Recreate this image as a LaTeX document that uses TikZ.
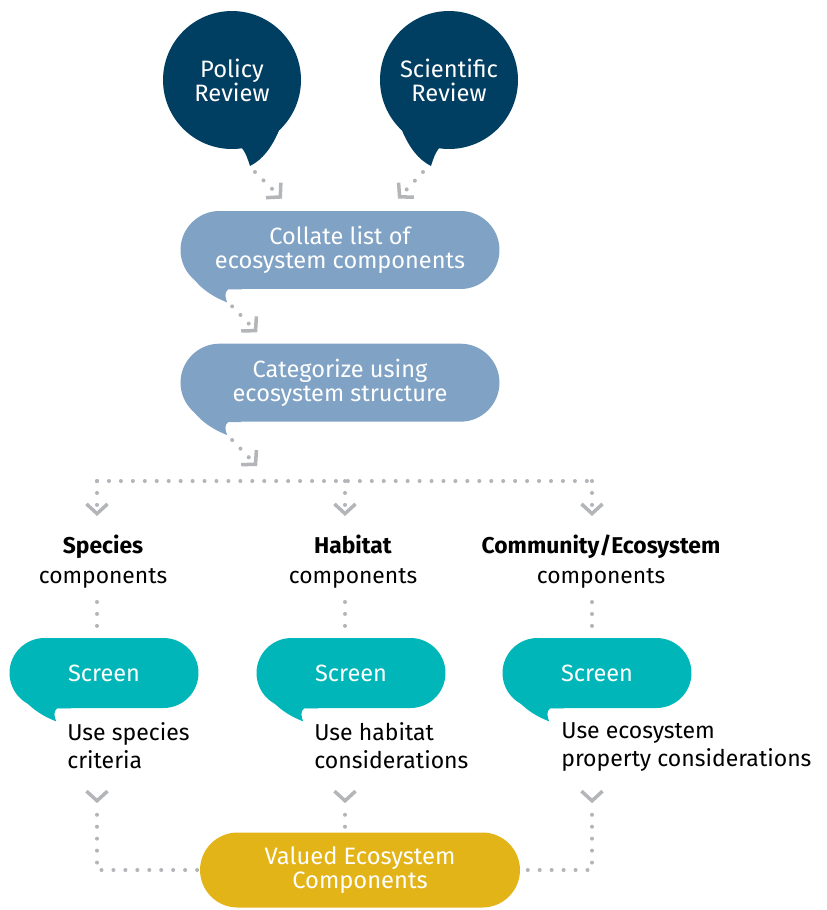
\documentclass[tikz,border=0pt]{standalone}
\usepackage{fontspec}
\setmainfont{Fira Sans}
\usetikzlibrary{positioning,calc,arrows.meta,decorations.markings}

\definecolor{reviewblue}{HTML}{003E62}
\definecolor{stepblue}{HTML}{7FA2C5}
\definecolor{screenteal}{HTML}{00B6B9}
\definecolor{valuegold}{HTML}{E3B417}
\definecolor{dotgray}{HTML}{B3B5B8}

\pgfdeclarelayer{background}
\pgfsetlayers{background,main}

\tikzset{vtip/.tip={Straight Barb[length=5.5pt, width=12pt, line width=2pt]}}

% speech bubble tails
\newcommand{\roundtail}[2]{%
  \fill[#2] ($(#1.south west)+(8,-20)$) .. controls ($(#1.south west)+(16,-2)$) and ($(#1.south west)+(34,8)$) .. ($(#1.south west)+(47,13)$)
    .. controls ($(#1.south west)+(45,8)$) and ($(#1.south west)+(44,3)$) .. ($(#1.south west)+(48,0)$) -- ($(#1.south west)+(62,0)$) -- cycle;}
\newcommand{\balltail}[3]{%
  \fill[#3] ($(#1)+(#2*8,66)$) .. controls ($(#1)+(#2*14,72)$) and ($(#1)+(#2*16,80)$) .. ($(#1)+(#2*18,86)$)
    .. controls ($(#1)+(#2*30,80)$) and ($(#1)+(#2*40,68)$) .. ($(#1)+(#2*48,48)$) -- cycle;}

\begin{document}
\begin{tikzpicture}[
    x=0.02cm, y=-0.02cm,
    review/.style={circle, fill=reviewblue, minimum size=2.76cm, inner sep=0pt, text=white, align=center, font=\fontsize{13.5}{13.6}\selectfont},
    bubble/.style={rectangle, rounded corners=0.78cm, fill=stepblue, minimum width=6.38cm, minimum height=1.56cm, inner sep=0pt, text=white, align=center, font=\fontsize{13.4}{13.6}\selectfont},
    screen/.style={rectangle, rounded corners=0.7cm, fill=screenteal, minimum width=3.78cm, minimum height=1.4cm, inner sep=0pt, text=white, font=\fontsize{13.4}{15}\selectfont},
    valued/.style={rectangle, rounded corners=0.75cm, fill=valuegold, minimum width=6.4cm, minimum height=1.5cm, inner sep=0pt, text=white, align=center, font=\fontsize{13.5}{13.6}\selectfont},
    group/.style={align=center, inner sep=0pt, font=\fontsize{13}{17}\selectfont},
    usage/.style={align=left, anchor=north west, inner sep=0pt, font=\fontsize{13.1}{15.9}\selectfont},
    dotline/.style={draw=dotgray, line width=2.3pt, line cap=round, dash pattern=on 0pt off 6.8pt},
    chevstart/.style={dash phase=0.1pt, postaction={decorate, decoration={markings, mark=at position 0.1pt with {\arrow[dotgray]{vtip}}}}}
]
\useasboundingbox (0,0) rectangle (827,910);

% sources
\node[review] (policy) at (232,80) {Policy\\Review};
\node[review] (scientific) at (449,80) {Scientific\\Review};

% steps
\node[bubble] (collate) at (340,250) {Collate list of\\ecosystem components};
\node[bubble, below=1.08cm of collate] (categorize) {Categorize using\\ecosystem structure};

% component groups
\node[group] (species) at (103,562) {\textbf{Species}\\components};
\node[group] (habitat) at (353,562) {\textbf{Habitat}\\components};
\node[group] (community) at (601,562) {\textbf{Community/Ecosystem}\\components};

\node[screen] (screen-s) at (104,673) {Screen};
\node[screen] (screen-h) at (351,673) {Screen};
\node[screen] (screen-c) at (597,673) {Screen};

\node[usage] (use-s) at (67,722) {Use species\\criteria};
\node[usage] (use-h) at (314,722) {Use habitat\\considerations};
\node[usage] (use-c) at (561,722) {Use ecosystem\\property considerations};

\node[valued] (valued) at (360,870) {Valued Ecosystem\\Components};

% tails
\begin{pgfonlayer}{background}
\balltail{policy}{1}{reviewblue}
\balltail{scientific}{-1}{reviewblue}
\roundtail{collate}{stepblue}
\roundtail{categorize}{stepblue}
\roundtail{screen-s}{screenteal}
\roundtail{screen-h}{screenteal}
\roundtail{screen-c}{screenteal}
\end{pgfonlayer}

% connector ends
\coordinate (policy-out) at ($(policy)+(23,92)$);
\coordinate (scientific-out) at ($(scientific)+(-26,92)$);
\coordinate (policy-in) at ($(collate.north)+(-58,-12)$);
\coordinate (scientific-in) at ($(collate.north)+(58,-12)$);
\coordinate (collate-out) at ($(collate.south west)+(52,17)$);
\coordinate (categorize-in) at ($(categorize.north west)+(77,-11)$);
\coordinate (categorize-out) at ($(categorize.south west)+(52,18)$);
\coordinate (split-in) at ($(categorize.south west)+(77,44)$);
\coordinate (split-l) at (97,481);
\coordinate (split-m) at (345,481);
\coordinate (split-r) at (592,481);
\coordinate (drop-s) at (97,516);
\coordinate (drop-h) at (345,516);
\coordinate (drop-c) at (592,516);
\coordinate (chev-s) at (97,803);
\coordinate (chev-h) at (345,803);
\coordinate (chev-c) at (592,803);

% Arrows
\draw[dotline, -vtip] (policy-out) -- (policy-in);
\draw[dotline, -vtip] (scientific-out) -- (scientific-in);
\draw[dotline, -vtip] (collate-out) -- (categorize-in);
\draw[dotline, -vtip] (categorize-out) -- (split-in);

\draw[dotline] (split-l) -- (split-r);
\draw[dotline, -vtip] (split-l) -- (drop-s);
\draw[dotline, -vtip] (split-m) -- (drop-h);
\draw[dotline, -vtip] (split-r) -- (drop-c);

\draw[dotline, shorten <=0.26cm] (species.south -| split-l) -- (screen-s.north -| split-l);
\draw[dotline, shorten <=0.26cm] (habitat.south -| split-m) -- (screen-h.north -| split-m);
\draw[dotline, shorten <=0.26cm] (community.south -| split-r) -- (screen-c.north -| split-r);

\draw[dotline, chevstart] (chev-s) -- (chev-s |- valued.west) -- (valued.west);
\draw[dotline, chevstart] (chev-h) -- (chev-h |- valued.north);
\draw[dotline, chevstart] (chev-c) -- (chev-c |- valued.east) -- (valued.east);

\end{tikzpicture}
\end{document}
